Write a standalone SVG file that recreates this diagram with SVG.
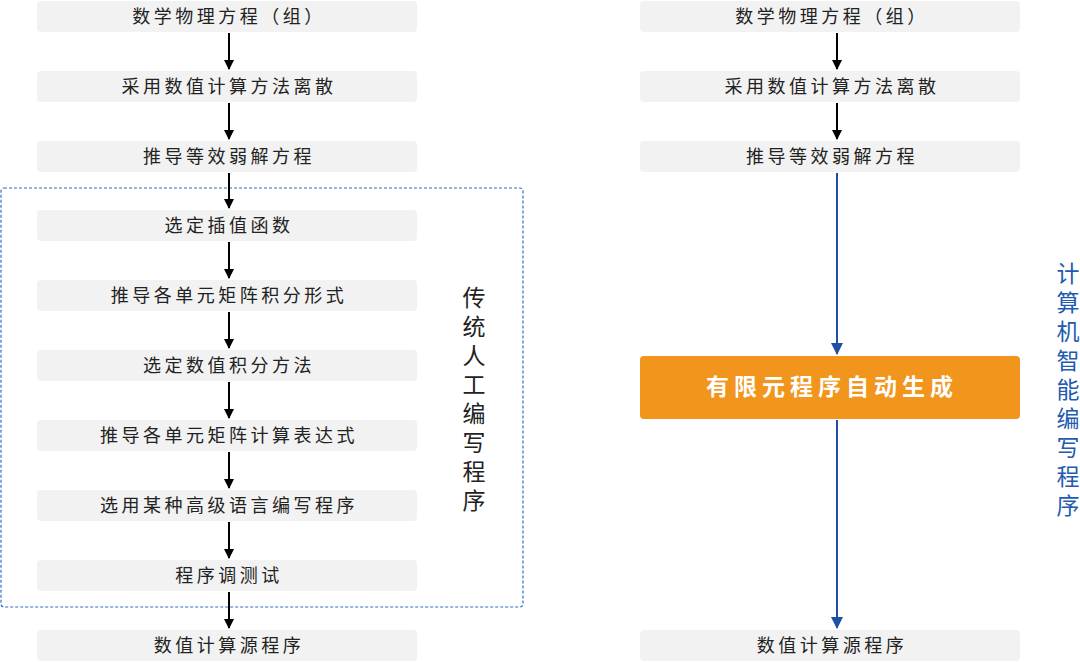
<svg xmlns="http://www.w3.org/2000/svg" width="1080" height="662" viewBox="0 0 1080 662">
<style>
.b{fill:#f2f2f2}
.t{font-family:"Noto Sans CJK SC",sans-serif;font-size:18px;fill:#222;text-anchor:middle;letter-spacing:3.5px}
.v{font-family:"Noto Sans CJK SC",sans-serif;font-size:23px;text-anchor:middle}
.k{stroke:#000;stroke-width:2;fill:none}
.u{stroke:#1f4fa3;stroke-width:2;fill:none}
</style>
<defs>
<marker id="ak" markerWidth="10" markerHeight="10" refX="9" refY="5" orient="auto" markerUnits="userSpaceOnUse"><path d="M0,0 L10,5 L0,10 Z" fill="#000"/></marker>
<marker id="au" markerWidth="12" markerHeight="12" refX="11" refY="6" orient="auto" markerUnits="userSpaceOnUse"><path d="M0,0 L12,6 L0,12 Z" fill="#1f4fa3"/></marker>
</defs>
<rect x="1" y="188" width="522" height="419" rx="3" fill="none" stroke="#2e6fc4" stroke-width="1.2" stroke-dasharray="3,2"/>
<g id="connectors">
<line class="k" x1="229" y1="33" x2="229" y2="69" marker-end="url(#ak)"/>
<line class="k" x1="229" y1="103" x2="229" y2="139" marker-end="url(#ak)"/>
<line class="k" x1="229" y1="173" x2="229" y2="208" marker-end="url(#ak)"/>
<line class="k" x1="229" y1="242" x2="229" y2="278" marker-end="url(#ak)"/>
<line class="k" x1="229" y1="312" x2="229" y2="348" marker-end="url(#ak)"/>
<line class="k" x1="229" y1="382" x2="229" y2="418" marker-end="url(#ak)"/>
<line class="k" x1="229" y1="452" x2="229" y2="488" marker-end="url(#ak)"/>
<line class="k" x1="229" y1="522" x2="229" y2="558" marker-end="url(#ak)"/>
<line class="k" x1="229" y1="592" x2="229" y2="628" marker-end="url(#ak)"/>
<line class="k" x1="837" y1="33" x2="837" y2="69" marker-end="url(#ak)"/>
<line class="k" x1="837" y1="103" x2="837" y2="139" marker-end="url(#ak)"/>
<line class="u" x1="837" y1="173" x2="837" y2="354" marker-end="url(#au)"/>
<line class="u" x1="837" y1="420" x2="837" y2="628" marker-end="url(#au)"/>
</g>
<g id="n1"><rect class="b" x="37" y="1" width="380" height="31" rx="4"/><text class="t" x="229" y="23">数学物理方程（组）</text></g>
<g id="n2"><rect class="b" x="37" y="71" width="380" height="31" rx="4"/><text class="t" x="229" y="93">采用数值计算方法离散</text></g>
<g id="n3"><rect class="b" x="37" y="141" width="380" height="31" rx="4"/><text class="t" x="229" y="163">推导等效弱解方程</text></g>
<g id="n4"><rect class="b" x="37" y="210" width="380" height="31" rx="4"/><text class="t" x="229" y="232">选定插值函数</text></g>
<g id="n5"><rect class="b" x="37" y="280" width="380" height="31" rx="4"/><text class="t" x="229" y="302">推导各单元矩阵积分形式</text></g>
<g id="n6"><rect class="b" x="37" y="350" width="380" height="31" rx="4"/><text class="t" x="229" y="372">选定数值积分方法</text></g>
<g id="n7"><rect class="b" x="37" y="420" width="380" height="31" rx="4"/><text class="t" x="229" y="442">推导各单元矩阵计算表达式</text></g>
<g id="n8"><rect class="b" x="37" y="490" width="380" height="31" rx="4"/><text class="t" x="229" y="512">选用某种高级语言编写程序</text></g>
<g id="n9"><rect class="b" x="37" y="560" width="380" height="31" rx="4"/><text class="t" x="229" y="582">程序调测试</text></g>
<g id="n10"><rect class="b" x="37" y="630" width="380" height="31" rx="4"/><text class="t" x="229" y="652">数值计算源程序</text></g>
<g id="m1"><rect class="b" x="640" y="1" width="380" height="31" rx="4"/><text class="t" x="832" y="23">数学物理方程（组）</text></g>
<g id="m2"><rect class="b" x="640" y="71" width="380" height="31" rx="4"/><text class="t" x="832" y="93">采用数值计算方法离散</text></g>
<g id="m3"><rect class="b" x="640" y="141" width="380" height="31" rx="4"/><text class="t" x="832" y="163">推导等效弱解方程</text></g>
<g id="m4"><rect x="640" y="356" width="380" height="63" rx="4" fill="#f2951c"/><text x="832" y="395" font-family="'Noto Sans CJK SC',sans-serif" font-size="23" font-weight="bold" fill="#fff" text-anchor="middle" letter-spacing="5">有限元程序自动生成</text></g>
<g id="m5"><rect class="b" x="640" y="630" width="380" height="31" rx="4"/><text class="t" x="832" y="652">数值计算源程序</text></g>
<g id="lab1" class="v" fill="#222">
<text x="474" y="306">传</text><text x="474" y="335">统</text><text x="474" y="364">人</text><text x="474" y="393">工</text><text x="474" y="422">编</text><text x="474" y="451">写</text><text x="474" y="480">程</text><text x="474" y="509">序</text>
</g>
<g id="lab2" class="v" fill="#1f5bb0">
<text x="1068" y="282">计</text><text x="1068" y="311">算</text><text x="1068" y="340">机</text><text x="1068" y="369">智</text><text x="1068" y="398">能</text><text x="1068" y="427">编</text><text x="1068" y="456">写</text><text x="1068" y="485">程</text><text x="1068" y="514">序</text>
</g>
</svg>
